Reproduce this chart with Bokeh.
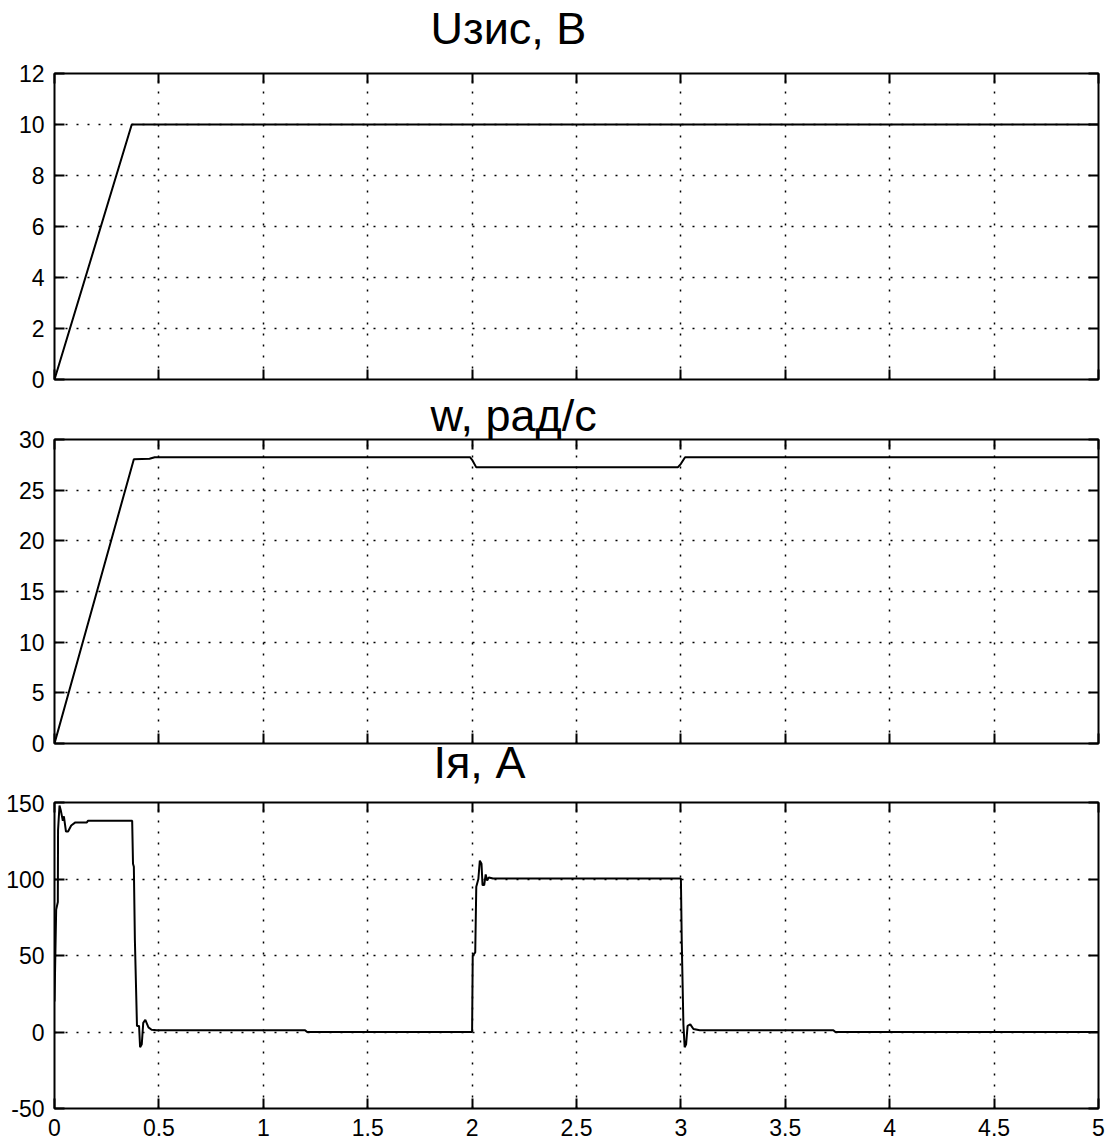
from bokeh.plotting import figure
from bokeh.layouts import column
from bokeh.models import LinearAxis, Label, FixedTicker, Range1d, Grid
from bokeh.embed import file_html
from bokeh.resources import INLINE

# ---------------- data ----------------
x_ticks = [0, 0.5, 1, 1.5, 2, 2.5, 3, 3.5, 4, 4.5, 5]
x_tick_labels = ["0", "0.5", "1", "1.5", "2", "2.5", "3", "3.5", "4", "4.5", "5"]

titles = ["Uзис, В", "w, рад/с", "Iя, A"]

u_ticks = [0, 2, 4, 6, 8, 10, 12]
t_u = [0, 0.37, 5.0]
u_val = [0, 10, 10]

w_ticks = [0, 5, 10, 15, 20, 25, 30]
t_w = [0, 0.38, 0.455, 0.48, 1.99, 2.0, 2.02, 2.985, 3.0, 3.02, 5.0]
w_val = [0, 28.05, 28.1, 28.25, 28.25, 28.0, 27.25, 27.25, 27.6, 28.25, 28.25]

i_ticks = [-50, 0, 50, 100, 150]
t_i = [0, 0.008, 0.016, 0.017, 0.024, 0.03, 0.04, 0.045, 0.055, 0.065, 0.08, 0.1,
       0.155, 0.16, 0.372, 0.376, 0.38, 0.385, 0.395, 0.405, 0.41, 0.418, 0.425,
       0.435, 0.45, 0.465, 0.49, 1.2, 1.21, 2.0, 2.003, 2.015, 2.02, 2.03, 2.037,
       2.045, 2.05, 2.058, 2.065, 2.072, 2.08, 2.1, 3.0, 3.004, 3.012, 3.018, 3.025,
       3.032, 3.045, 3.06, 3.09, 3.73, 3.74, 5.0]
i_val = [20, 80, 85, 132, 148, 145, 138, 141, 131, 131, 135, 137,
         137, 138, 138, 110, 108, 60, 4, 4, -10, -8, 6,
         8, 3, 1.5, 1.2, 1.2, 0, 0, 50, 52, 95, 100, 112,
         110, 96, 96, 103, 99, 101, 100.3, 100.3, 60, 5, -10, -8,
         4, 5, 2, 1.2, 1.2, 0, 0]

FONT = "Liberation Sans"


def blank_axis(ticks):
    return LinearAxis(ticker=FixedTicker(ticks=ticks), axis_line_color=None,
                      major_tick_in=10, major_tick_out=0, major_tick_line_width=2,
                      major_tick_line_color="black", minor_tick_line_color=None,
                      major_label_overrides={float(v): "" for v in ticks},
                      major_label_text_font_size="1px", major_label_standoff=0)


def make_panel(ymin, ymax, yticks, frame_h, b_top, b_bottom, show_x_labels):
    p = figure(frame_width=1044, frame_height=frame_h,
               min_border_left=54, min_border_right=11,
               min_border_top=b_top, min_border_bottom=b_bottom,
               x_range=Range1d(0, 5), y_range=Range1d(ymin, ymax),
               output_backend="svg", toolbar_location=None,
               background_fill_color="white", border_fill_color="white",
               x_axis_location=None)
    p.outline_line_color = "black"
    p.outline_line_width = 2
    p.outline_line_alpha = 1

    if show_x_labels:
        xa = LinearAxis(ticker=FixedTicker(ticks=x_ticks), axis_line_color=None,
                        major_tick_in=10, major_tick_out=0, major_tick_line_width=2,
                        major_tick_line_color="black", minor_tick_line_color=None,
                        major_label_overrides={float(v): s for v, s in zip(x_ticks, x_tick_labels)},
                        major_label_text_font=FONT, major_label_text_font_size="23px",
                        major_label_text_color="black", major_label_standoff=10)
    else:
        xa = blank_axis(x_ticks)
    p.add_layout(xa, "below")

    ya = p.yaxis[0]
    ya.ticker = FixedTicker(ticks=yticks)
    ya.major_label_overrides = {float(v): str(v) for v in yticks}
    ya.axis_line_color = None
    ya.major_tick_in = 10
    ya.major_tick_out = 0
    ya.major_tick_line_color = "black"
    ya.major_tick_line_width = 2
    ya.minor_tick_line_color = None
    ya.major_label_text_font = FONT
    ya.major_label_text_font_size = "23px"
    ya.major_label_text_color = "black"
    ya.major_label_standoff = 10

    p.add_layout(blank_axis(x_ticks), "above")
    p.add_layout(blank_axis(yticks), "right")

    p.xgrid.grid_line_color = None
    p.ygrid.grid_line_color = None
    p.add_layout(Grid(dimension=0, ticker=FixedTicker(ticks=x_ticks),
                      grid_line_color="black", grid_line_width=1.5,
                      grid_line_dash="2 9"))
    p.add_layout(Grid(dimension=1, ticker=FixedTicker(ticks=yticks),
                      grid_line_color="black", grid_line_width=1.5,
                      grid_line_dash="2 9"))
    return p


def panel_label(text, x, y):
    return Label(text=text, x=x, y=y, x_units="screen", y_units="screen",
                 text_align="left", text_baseline="alphabetic",
                 text_font=FONT, text_font_size="45px", text_color="black")


p1 = make_panel(0, 12, u_ticks, 306, 73, 9, False)
p1.line(t_u, u_val, line_color="black", line_width=2)
p1.add_layout(panel_label(titles[0], 376, 45), "above")

p2 = make_panel(0, 30, w_ticks, 304, 47, 45, False)
p2.line(t_w, w_val, line_color="black", line_width=2)
p2.add_layout(panel_label(titles[1], 376, 24), "above")
p2.add_layout(panel_label(titles[2], 379, 32), "below")

p3 = make_panel(-50, 150, i_ticks, 306, 8, 36, True)
p3.line(t_i, i_val, line_color="black", line_width=2)

layout = column(p1, p2, p3, spacing=0)
open("out.html", "w").write(file_html(layout, INLINE))
